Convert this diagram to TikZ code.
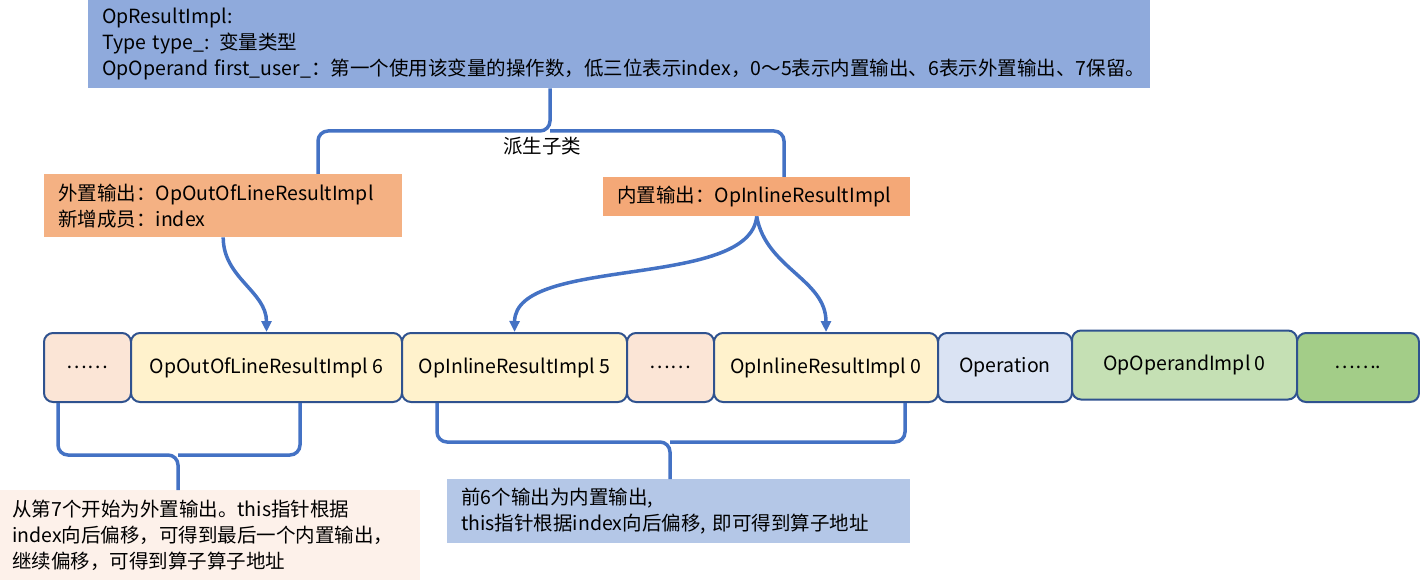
\documentclass[tikz,border=0pt]{standalone}
\usepackage{fontspec}
\setmainfont{Noto Sans CJK SC}
\usetikzlibrary{arrows.meta}
\definecolor{basebg}{HTML}{8FAADC}
\definecolor{subbgL}{HTML}{F4B183}
\definecolor{subbgR}{HTML}{F4A877}
\definecolor{peach}{HTML}{FBE5D6}
\definecolor{cream}{HTML}{FFF2CC}
\definecolor{paleblue}{HTML}{DAE3F3}
\definecolor{palegreen}{HTML}{C5E0B4}
\definecolor{midgreen}{HTML}{A3CD88}
\definecolor{edgeblue}{HTML}{2F528F}
\definecolor{linkblue}{HTML}{4472C4}
\definecolor{notepeach}{HTML}{FDF1EA}
\definecolor{noteblue}{HTML}{B4C7E7}
\begin{document}
\begin{tikzpicture}[x=1pt,y=-1pt,
  every node/.style={font=\fontsize{19.5}{26}\selectfont},
  cell/.style={draw=edgeblue,line width=2pt,rounded corners=9pt,minimum height=69pt,inner sep=0pt},
  panel/.style={align=left,inner xsep=14pt,inner ysep=0pt},
  link/.style={draw=linkblue,line width=3.5pt},
  tip/.style={-{Triangle[width=10pt,length=11pt]}}]
\useasboundingbox (0,0) rectangle (1420,588);
% base class
\node[panel,fill=basebg,anchor=north west,minimum width=1062pt,minimum height=88pt,text width=1034pt] (base) at (88,0)
  {OpResultImpl:\\Type type\_: 变量类型\\OpOperand first\_user\_：第一个使用该变量的操作数，低三位表示index，0～5表示内置输出、6表示外置输出、7保留。};
% sub classes
\node[panel,fill=subbgL,anchor=north west,minimum width=358pt,minimum height=63pt,text width=330pt] (outbox) at (44,174)
  {外置输出：OpOutOfLineResultImpl\\新增成员：index};
\node[panel,fill=subbgR,anchor=north west,minimum width=307pt,minimum height=39pt,text width=279pt] (inbox) at (603,177)
  {内置输出：OpInlineResultImpl};
\node (derive) at (542,146) {派生子类};
% memory row
\node[cell,fill=peach,minimum width=87pt] (dotsA) at (87.5,367.5) {……};
\node[cell,fill=cream,minimum width=271pt] (out6) at (266.5,367.5) {OpOutOfLineResultImpl 6};
\node[cell,fill=cream,minimum width=225pt] (in5) at (514.5,367.5) {OpInlineResultImpl 5};
\node[cell,fill=peach,minimum width=87pt] (dotsB) at (670.5,367.5) {……};
\node[cell,fill=cream,minimum width=224pt] (in0) at (826,367.5) {OpInlineResultImpl 0};
\node[cell,fill=paleblue,minimum width=134pt] (oper) at (1005,367.5) {Operation};
\node[cell,fill=palegreen,minimum width=225pt] (opnd0) at (1184.5,365) {OpOperandImpl 0};
\node[cell,fill=midgreen,minimum width=122pt] (dotsC) at (1358,367.5) {…….};
% notes
\node[panel,fill=notepeach,anchor=north west,minimum width=420pt,minimum height=90pt,text width=396pt,inner xsep=12pt] (noteL) at (0,490)
  {从第7个开始为外置输出。this指针根据\\index向后偏移，可得到最后一个内置输出，\\继续偏移，可得到算子算子地址};
\node[panel,fill=noteblue,anchor=north west,minimum width=463pt,minimum height=64pt,text width=435pt] (noteR) at (447,479)
  {前6个输出为内置输出,\\this指针根据index向后偏移, 即可得到算子地址};
% braces
\coordinate (armL) at (318,131);
\coordinate (armR) at (784,131);
\coordinate (stem) at (550,131);
\draw[link,rounded corners=10pt] (outbox.north -| armL) -- (armL) -- (stem) -- (base.south -| stem);
\draw[link,rounded corners=10pt] (inbox.north -| armR) -- (armR) -- (stem);
\coordinate (bl) at (58,455);
\coordinate (br) at (300,455);
\coordinate (bm) at (178,455);
\draw[link,rounded corners=10pt] (dotsA.south -| bl) -- (bl) -- (bm) -- (noteL.north -| bm);
\draw[link,rounded corners=10pt] (out6.south -| br) -- (br) -- (bm);
\coordinate (cl) at (437,442);
\coordinate (cr) at (905,442);
\coordinate (cm) at (670,442);
\draw[link,rounded corners=10pt] (in5.south -| cl) -- (cl) -- (cm) -- (noteR.north -| cm);
\draw[link,rounded corners=10pt] (in0.south -| cr) -- (cr) -- (cm);
% arrows
\draw[link,tip] (outbox.south) to[out=-90,in=90] (out6.north);
\draw[link,tip] (inbox.south) .. controls (750,290) and (515,255) .. (in5.north);
\draw[link,tip] (inbox.south) to[out=-80,in=90] (in0.north);
\end{tikzpicture}
\end{document}
